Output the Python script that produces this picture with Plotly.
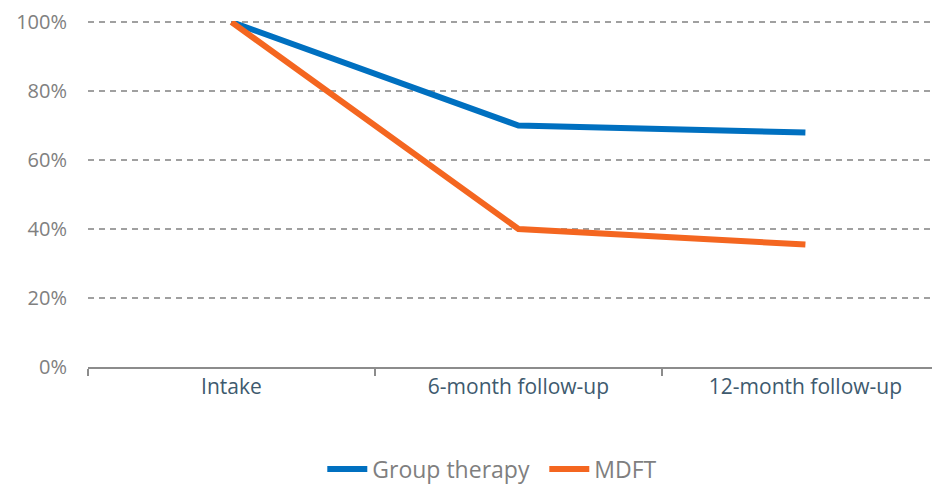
import plotly.graph_objects as go

categories = ["Intake", "6-month follow-up", "12-month follow-up"]
group_therapy = [100, 70, 68]
mdft = [100, 40, 35.5]
y_ticks = [0, 20, 40, 60, 80, 100]
y_tick_labels = ["0%", "20%", "40%", "60%", "80%", "100%"]

FONT = "'Open Sans', Lato, sans-serif"

fig = go.Figure()
fig.add_trace(go.Scatter(x=categories, y=group_therapy, name="Group therapy", mode="lines",
                         line=dict(color="#0070C0", width=6), cliponaxis=False))
fig.add_trace(go.Scatter(x=categories, y=mdft, name="MDFT", mode="lines",
                         line=dict(color="#F46620", width=6), cliponaxis=False))

fig.update_layout(
    width=940, height=491,
    margin=dict(l=80, r=8, t=13, b=116),
    plot_bgcolor="white", paper_bgcolor="white",
    font=dict(family=FONT, size=20, color="#808080"),
    showlegend=True,
    legend=dict(orientation="h", x=0.275, xanchor="left", y=-0.295, yanchor="middle",
                font=dict(size=23, color="#7F7F7F"), itemwidth=40, traceorder="normal",
                entrywidth=167, entrywidthmode="pixels"),
)
fig.update_xaxes(
    type="category", range=[-0.5, 2.469], automargin=False,
    showgrid=False, showline=True, linecolor="#8C8C8C", linewidth=2,
    ticks="outside", tickson="boundaries", ticklen=7, tickwidth=1.5, tickcolor="#8C8C8C",
    tickfont=dict(family=FONT, size=21, color="#3E5A6E"),
)
fig.update_yaxes(
    range=[0, 100.3], tickvals=y_ticks, ticktext=y_tick_labels, automargin=False,
    showgrid=True, gridcolor="#A0A0A0", gridwidth=1.5, griddash="6px,5px",
    zeroline=False, showline=False, ticks="", ticklabelstandoff=20,
    ticklabeloverflow="allow",
    tickfont=dict(family=FONT, size=20, color="#808080"),
)
fig.write_html("out.html")
